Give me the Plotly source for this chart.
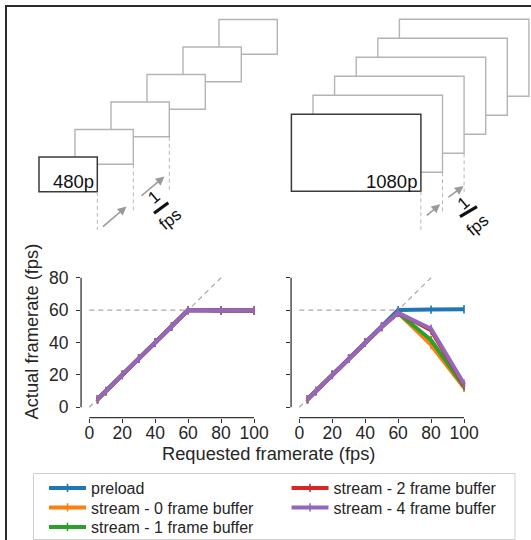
import plotly.graph_objects as go

W, H = 531, 540
FONT = "Liberation Sans, Arial, sans-serif"
INK = "#262626"

# Requested framerates (fps) and measured framerates per playback mode
requested = [5, 10, 20, 30, 40, 50, 60, 80, 100]

p480_preload = [5, 10, 20, 30, 40, 50, 60, 59.9, 59.6]
p480_stream0 = [5, 10, 20, 30, 40, 50, 60, 59.8, 59.7]
p480_stream1 = [5, 10, 20, 30, 40, 50, 60, 59.8, 59.7]
p480_stream2 = [5, 10, 20, 30, 40, 50, 60, 59.8, 59.7]
p480_stream4 = [5, 10, 20, 30, 40, 50, 60, 59.8, 59.7]

p1080_preload = [5, 10, 20, 30, 40, 50, 60, 60.3, 60.5]
p1080_stream0 = [5, 10, 20, 30, 40, 49.6, 58.3, 38.5, 12.0]
p1080_stream1 = [5, 10, 20, 30, 40, 49.6, 58.3, 41.5, 12.8]
p1080_stream2 = [5, 10, 20, 30, 40, 49.6, 58.3, 47.5, 13.8]
p1080_stream4 = [5, 10, 20, 30, 40, 49.6, 58.3, 48.5, 14.5]

series_names = ["preload", "stream - 0 frame buffer", "stream - 1 frame buffer",
                "stream - 2 frame buffer", "stream - 4 frame buffer"]
series_colors = ["#1f77b4", "#ff7f0e", "#2ca02c", "#d62728", "#9467bd"]

x_ticks = [0, 20, 40, 60, 80, 100]
y_ticks = [0, 20, 40, 60, 80]
identity_line = [0, 80]
refresh_cap = 60

panels = [
    ("x", "y", [p480_preload, p480_stream0, p480_stream1, p480_stream2, p480_stream4]),
    ("x2", "y2", [p1080_preload, p1080_stream0, p1080_stream1, p1080_stream2, p1080_stream4]),
]

fig = go.Figure()

# legend slots: (column x, row y) in pixels, column-major like a 2-column legend
legend_slots = [(44, 488), (44, 507.5), (44, 527), (286.5, 488), (286.5, 507.5)]

for pi, (xa, ya, series) in enumerate(panels):
    # reference guides: identity line and the 60 Hz display cap
    fig.add_trace(go.Scatter(x=identity_line, y=identity_line, mode="lines", xaxis=xa, yaxis=ya,
                             line=dict(color="#a8a8a8", width=1.2, dash="5px,4px"),
                             showlegend=False, hoverinfo="skip"))
    fig.add_trace(go.Scatter(x=[0, refresh_cap], y=[refresh_cap, refresh_cap], mode="lines",
                             xaxis=xa, yaxis=ya,
                             line=dict(color="#a8a8a8", width=1.2, dash="5px,4px"),
                             showlegend=False, hoverinfo="skip"))
    for si, (name, color, vals) in enumerate(zip(series_names, series_colors, series)):
        lg = "legend" if si == 0 else f"legend{si + 1}"
        fig.add_trace(go.Scatter(
            x=requested, y=vals, mode="lines+markers", name=name,
            xaxis=xa, yaxis=ya, cliponaxis=False,
            line=dict(color=color, width=4),
            marker=dict(symbol="line-ns", size=6, line=dict(color=color, width=1.6)),
            showlegend=(pi == 1), legend=lg,
        ))

# axis geometry (pixels): where data x=0 / x=100 and y=0 / y=80 land
X_RANGE = [-5, 105]
Y_RANGE = [-6.4, 84]


def x_domain(px0, px100):
    per = (px100 - px0) / 100.0
    return [(px0 + X_RANGE[0] * per) / W, (px0 + X_RANGE[1] * per) / W]


def y_domain(py0, py80):
    per = (py0 - py80) / 80.0
    return [(H - (py0 - Y_RANGE[0] * per)) / H, (H - (py0 - Y_RANGE[1] * per)) / H]


tick_common = dict(ticks="outside", ticklen=4, tickwidth=1.3, tickcolor="#333333",
                   showline=False, showgrid=False, zeroline=False, automargin=False,
                   tickfont=dict(family=FONT, size=17.5, color=INK), fixedrange=True)

ydom = y_domain(407.3, 277.7)
fig.update_layout(
    template="none",
    xaxis=dict(domain=x_domain(89.3, 254.0), range=X_RANGE, tickvals=x_ticks, anchor="y",
               ticklabelstandoff=-5, **tick_common),
    yaxis=dict(domain=ydom, range=Y_RANGE, tickvals=y_ticks, anchor="x",
               ticklabelstandoff=4, **tick_common),
    xaxis2=dict(domain=x_domain(299.3, 464.0), range=X_RANGE, tickvals=x_ticks, anchor="y2",
                ticklabelstandoff=-5, **tick_common),
    yaxis2=dict(domain=ydom, range=Y_RANGE, tickvals=y_ticks, anchor="x2",
                showticklabels=False, **tick_common),
    # canvas axis for the frame-timing sketches (pixel units, y downwards)
    xaxis3=dict(domain=[0, 1], range=[0, W], visible=False, fixedrange=True, anchor="y3",
                automargin=False),
    yaxis3=dict(domain=[0, 1], range=[H, 0], visible=False, fixedrange=True, anchor="x3",
                automargin=False),
)

shapes = []
annotations = []

# trimmed spines
for xa, ya in [("x", "y"), ("x2", "y2")]:
    shapes.append(dict(type="line", xref=xa, yref=f"{ya} domain", x0=0, x1=100, y0=0, y1=0,
                       line=dict(color="#333333", width=1.3), layer="above"))
    shapes.append(dict(type="line", xref=f"{xa} domain", yref=ya, x0=0, x1=0, y0=0, y1=80,
                       line=dict(color="#333333", width=1.3), layer="above"))

# frame stacks: front frame origin, size and per-frame offset
n_frames = 6
stacks = [
    dict(origin=(39.0, 157.0), size=(58.3, 34.8), step=(36.0, -27.5), label="480p",
         arrows=[((101.5, 228.0), (126.5, 206.5)), ((140.0, 197.0), (164.5, 176.5))],
         frac=((153.5, 197.0), (154.0, 213.3), (168.3, 202.7), (170.0, 219.5))),
    dict(origin=(291.4, 114.3), size=(129.5, 77.0), step=(21.6, -19.0), label="1080p",
         arrows=[((425.3, 216.7), (440.3, 204.3)), ((447.0, 198.3), (463.7, 186.0))],
         frac=((463.3, 203.5), (460.0, 216.7), (477.0, 206.7), (477.0, 225.0))),
]
guide_bottoms = [230.0, 211.5, 193.0]

for st in stacks:
    ox, oy = st["origin"]
    w, h = st["size"]
    dx, dy = st["step"]
    for i in reversed(range(n_frames)):
        front = i == 0
        shapes.append(dict(type="rect", xref="x3", yref="y3",
                           x0=ox + i * dx, x1=ox + i * dx + w, y0=oy + i * dy, y1=oy + i * dy + h,
                           fillcolor="white",
                           line=dict(color="#3a3a3a" if front else "#b4b4b4",
                                     width=1.5 if front else 1.4),
                           layer="above"))
    for i, yb in enumerate(guide_bottoms):
        shapes.append(dict(type="line", xref="x3", yref="y3",
                           x0=ox + w + i * dx, x1=ox + w + i * dx,
                           y0=oy + h + i * dy, y1=yb,
                           line=dict(color="#b8b8b8", width=1, dash="4px,3px"), layer="above"))
    for (tx, ty), (hx, hy) in st["arrows"]:
        annotations.append(dict(xref="x3", yref="y3", axref="x3", ayref="y3",
                                x=hx, y=hy, ax=tx, ay=ty, text="", showarrow=True,
                                arrowhead=2, arrowsize=1.1, arrowwidth=1.6, arrowcolor="#9a9a9a"))
    annotations.append(dict(xref="x3", yref="y3", x=ox + w - 1.5, y=oy + h - 10,
                            text=st["label"], showarrow=False, xanchor="right", yanchor="middle",
                            font=dict(family=FONT, size=18.5, color="#111111")))
    (onex, oney), (b0x, b0y), (b1x, b1y), (fx, fy) = st["frac"]
    annotations.append(dict(xref="x3", yref="y3", x=onex, y=oney, text="1", showarrow=False,
                            textangle=-40, font=dict(family=FONT, size=17, color="#111111")))
    annotations.append(dict(xref="x3", yref="y3", x=fx, y=fy, text="fps", showarrow=False,
                            textangle=-40, font=dict(family=FONT, size=17, color="#111111")))
    shapes.append(dict(type="line", xref="x3", yref="y3", x0=b0x, y0=b0y, x1=b1x, y1=b1y,
                       line=dict(color="#111111", width=3.2), layer="above"))

# outer panel frame
shapes.append(dict(type="rect", xref="paper", yref="paper", x0=6 / W, x1=1.2, y0=-0.2,
                   y1=(H - 6) / H, line=dict(color="#2b2b2b", width=2), fillcolor="rgba(0,0,0,0)",
                   layer="above"))
# legend box
shapes.append(dict(type="rect", xref="x3", yref="y3", x0=33.5, x1=515, y0=473.5, y1=539.5,
                   line=dict(color="#cfcfcf", width=1), fillcolor="rgba(0,0,0,0)", layer="below"))

# axis titles
annotations.append(dict(xref="paper", yref="paper", x=268 / W, y=(H - 453) / H,
                        text="Requested framerate (fps)", showarrow=False,
                        xanchor="center", yanchor="middle",
                        font=dict(family=FONT, size=18.3, color=INK)))
annotations.append(dict(xref="paper", yref="paper", x=31 / W, y=(H - 331.5) / H,
                        text="Actual framerate (fps)", showarrow=False, textangle=-90,
                        xanchor="center", yanchor="middle",
                        font=dict(family=FONT, size=18.3, color=INK)))

legend_layout = {}
for si, (lx, ly) in enumerate(legend_slots):
    key = "legend" if si == 0 else f"legend{si + 1}"
    legend_layout[key] = dict(x=lx / W, y=(H - ly) / H, xanchor="left", yanchor="middle",
                              bgcolor="rgba(0,0,0,0)", borderwidth=0, itemwidth=37,
                              font=dict(family=FONT, size=16, color=INK))

fig.update_layout(
    width=W, height=H, autosize=False,
    # legends sit inside the figure; keep them from pushing the margins
    margin=dict(l=0, r=0, t=0, b=0, pad=0, autoexpand=False),
    paper_bgcolor="white", plot_bgcolor="rgba(0,0,0,0)",
    shapes=shapes, annotations=annotations, hovermode=False,
    **legend_layout,
)

fig.write_html(
    "out.html",
    config={"displayModeBar": False, "responsive": False},
    post_script="document.body.style.margin='0';document.body.style.overflow='hidden';",
)
